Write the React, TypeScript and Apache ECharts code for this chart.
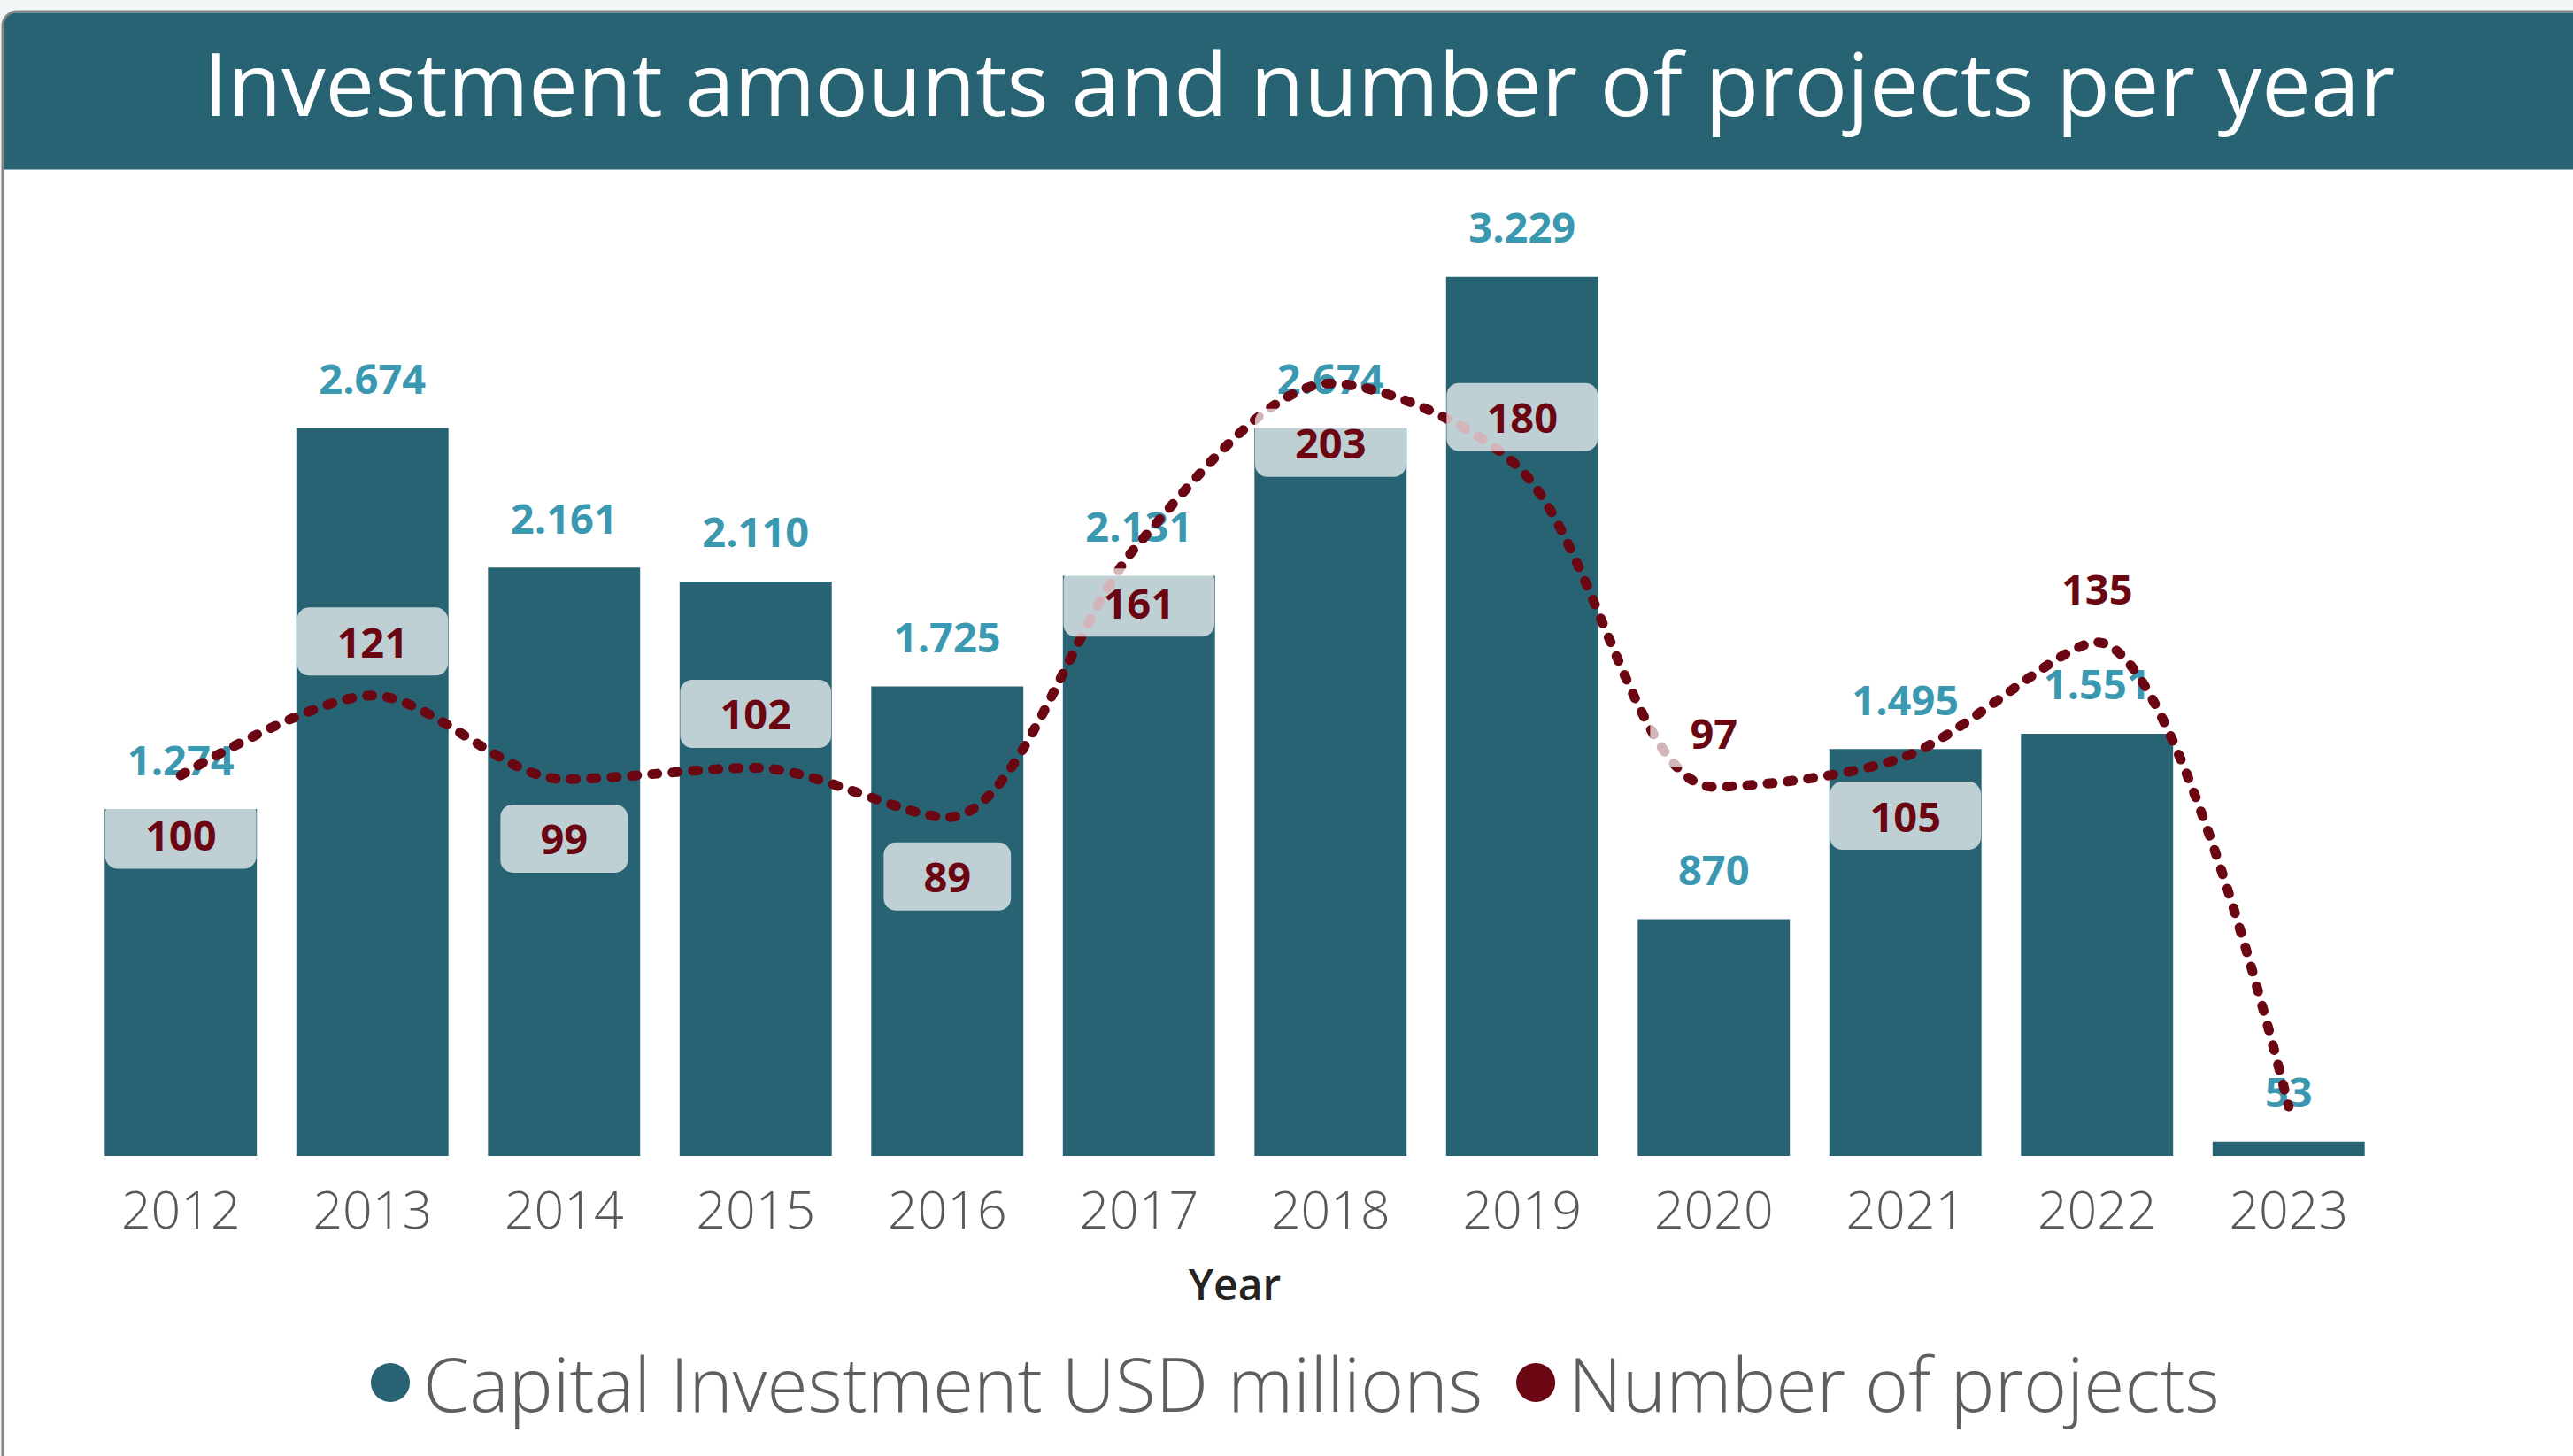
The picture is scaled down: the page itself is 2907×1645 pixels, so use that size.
import React, { useEffect, useRef } from "react";
import * as echarts from "echarts";

const years = ["2012", "2013", "2014", "2015", "2016", "2017", "2018", "2019", "2020", "2021", "2022", "2023"];
const investment = [1274, 2674, 2161, 2110, 1725, 2131, 2674, 3229, 870, 1495, 1551, 53];
const projects = [100, 121, 99, 102, 89, 161, 203, 180, 97, 105, 135, 13];
const projectLabelSide = ["bottom", "top", "bottom", "top", "bottom", "bottom", "bottom", "top", "top", "bottom", "top", "none"];

const TITLE = "Investment amounts and number of projects per year";
const BAR_NAME = "Capital Investment USD millions";
const LINE_NAME = "Number of projects";

const TEAL = "#286373";
const MAROON = "#6b0613";
const BLUE = "#3a98b0";
const FONT = "'Open Sans', 'Noto Sans', sans-serif";

function fmt(v: number): string {
  return String(v).replace(/\B(?=(\d{3})+(?!\d))/g, ".");
}

export default function App() {
  const ref = useRef<HTMLDivElement>(null);
  useEffect(() => {
    document.body.style.margin = "0";
    const chart = echarts.init(ref.current!, undefined, { renderer: "svg" });
    const option: any = {
      animation: false,
      backgroundColor: "#f3f6f7",
      textStyle: { fontFamily: FONT },
      graphic: {
        elements: [
          {
            type: "rect",
            z: -10,
            shape: { x: 3, y: 13, width: 3100, height: 1800, r: [16, 0, 0, 0] },
            style: { fill: "#ffffff", stroke: "#858585", lineWidth: 3 },
          },
          {
            type: "rect",
            z: -9,
            shape: { x: 4.5, y: 14.5, width: 3100, height: 177, r: [14, 0, 0, 0] },
            style: { fill: TEAL },
          },
          {
            type: "text",
            z: -8,
            style: {
              text: TITLE,
              x: 1468,
              y: 92,
              textAlign: "center",
              textVerticalAlign: "middle",
              fill: "#ffffff",
              fontSize: 99,
              fontFamily: FONT,
              fontWeight: 400,
            },
          },
        ],
      },
      legend: {
        left: 414,
        top: 1515,
        icon: "circle",
        itemWidth: 44,
        itemHeight: 44,
        itemGap: 38,
        textStyle: {
          fontSize: 84,
          fontWeight: 300,
          color: "#605e5c",
          fontFamily: FONT,
          padding: [0, 0, 0, 10],
        },
        data: [BAR_NAME, LINE_NAME],
      },
      grid: { left: 96, right: 213, top: 306, bottom: 339 },
      xAxis: {
        type: "category",
        data: years,
        axisLine: { show: false },
        axisTick: { show: false },
        axisLabel: { fontSize: 59, fontWeight: 300, color: "#5a5856", margin: 29, fontFamily: FONT },
        name: "Year",
        nameLocation: "middle",
        nameGap: 120,
        nameTextStyle: { fontSize: 48, fontWeight: 600, color: "#252423", fontFamily: FONT },
      },
      yAxis: [
        { type: "value", min: 0, max: 3251, show: false, splitLine: { show: false } },
        { type: "value", min: 0, max: 232.6, show: false, splitLine: { show: false } },
      ],
      series: [
        {
          name: BAR_NAME,
          type: "bar",
          data: investment,
          barCategoryGap: "20.6%",
          itemStyle: { color: TEAL },
          label: {
            show: true,
            position: "top",
            distance: 18,
            formatter: (p: any) => fmt(p.value),
            color: BLUE,
            fontSize: 47,
            fontWeight: 700,
            fontFamily: FONT,
            lineHeight: 55,
            backgroundColor: "rgba(255,255,255,0.7)",
            padding: [11, 36],
            borderRadius: 14,
          },
        },
        {
          name: LINE_NAME,
          type: "line",
          yAxisIndex: 1,
          smooth: 0.3,
          symbol: "circle",
          symbolSize: 1,
          showSymbol: true,
          itemStyle: { color: MAROON },
          lineStyle: { color: MAROON, width: 11, type: [6, 17], cap: "round" },
          data: projects.map((v, i) => {
            const side = projectLabelSide[i];
            return {
              value: v,
              label: {
                show: side !== "none",
                position: side === "none" ? "top" : side,
                distance: side === "top" ? 22 : 28,
              },
            };
          }),
          label: {
            show: true,
            color: MAROON,
            fontSize: 47,
            fontWeight: 700,
            fontFamily: FONT,
            lineHeight: 55,
            backgroundColor: "rgba(255,255,255,0.7)",
            padding: [11, 45],
            borderRadius: 14,
          },
        },
      ],
    };
    chart.setOption(option);
    return () => chart.dispose();
  }, []);
  return <div ref={ref} style={{ width: 2907, height: 1645 }} />;
}
